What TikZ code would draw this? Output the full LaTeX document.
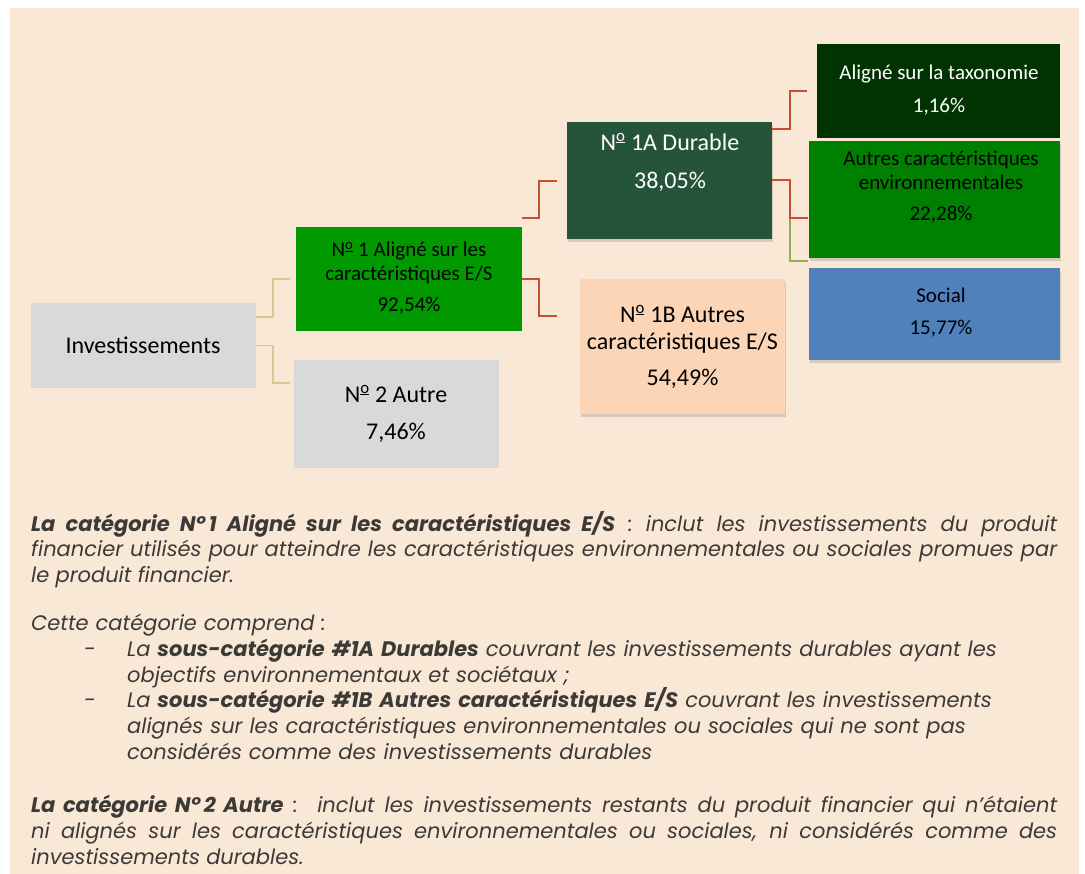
\documentclass[tikz,border=0pt]{standalone}
\usepackage{fontspec}
\usepackage{xcolor}
\usetikzlibrary{shadows}
\newfontfamily\carl{Carlito}
\newfontfamily\popp{Poppins}
\definecolor{fond}{RGB}{250,232,215}
\definecolor{gris}{RGB}{217,217,217}
\definecolor{vert}{RGB}{0,153,0}
\definecolor{durable}{RGB}{38,84,59}
\definecolor{taxo}{RGB}{0,51,0}
\definecolor{envir}{RGB}{0,128,0}
\definecolor{social}{RGB}{79,129,189}
\definecolor{peche}{RGB}{251,213,181}
\definecolor{brique}{RGB}{200,78,48}
\definecolor{sable}{RGB}{217,201,143}
\definecolor{olive}{RGB}{140,176,80}
\definecolor{texte}{RGB}{60,58,55}
\newcommand\nro{N\textsuperscript{\underline{o}}}
\newcommand\puce{\makebox[96pt][l]{\hspace*{53pt}-}}
\newcommand\retrait{\hspace*{96pt}}
\begin{document}
\begin{tikzpicture}[x=1pt,y=-1pt,
box/.style={rectangle,inner sep=0,draw=none},
ombre/.style={drop shadow={opacity=.3,shadow xshift=1pt,shadow yshift=-3pt}},
grand/.style={inner sep=0,align=center,font=\carl\fontsize{24}{27}\selectfont},
petit/.style={inner sep=0,align=center,font=\carl\fontsize{21}{24}\selectfont},
para/.style={inner sep=0,anchor=north west,text width=1026pt,text=texte,font=\popp\itshape\fontsize{21}{25.7}\selectfont},
tanln/.style={draw=sable,line width=1.8pt},
redln/.style={draw=brique,line width=2pt},
grnln/.style={draw=olive,line width=2pt}]
\useasboundingbox(0,0)rectangle(1085,874);
\fill[fond](10,8)rectangle(1079,874);
\node[box,fill=gris,minimum width=225pt,minimum height=85pt](inv)at(143.5,345.5){};
\node[box,fill=vert,minimum width=226pt,minimum height=104pt](al)at(409,279){};
\node[box,fill=gris,minimum width=205pt,minimum height=108pt](au)at(396.5,414){};
\node[box,ombre,fill=durable,minimum width=205pt,minimum height=117pt](du)at(669.5,180.5){};
\node[box,ombre,fill=peche,minimum width=205pt,minimum height=135pt](ac)at(682.5,346.5){};
\node[box,fill=taxo,minimum width=243pt,minimum height=94pt](ta)at(938.5,91){};
\node[box,ombre,fill=envir,minimum width=251pt,minimum height=117pt](env)at(934.5,199.5){};
\node[box,ombre,fill=social,minimum width=251pt,minimum height=92pt](so)at(934.5,314){};
\node[grand](invT)at(143,345){Investissements};
\node[petit](alT)at(409,278.5){\nro{} 1 Aligné sur les\\caractéristiques E/S\\[7pt]92,54\%};
\node[grand](auT)at(396,413.5){\nro{} 2 Autre\\[10pt]7,46\%};
\node[grand,text=white](duT)at(670,162){\nro{} 1A Durable\\[11pt]38,05\%};
\node[grand](acT)at(682.5,346.5){\nro{} 1B Autres\\caractéristiques E/S\\[9pt]54,49\%};
\node[petit,text=white](taT)at(939,90.5){Aligné sur la taxonomie\\[9pt]1,16\%};
\node[petit](envT)at(941,187.5){Autres caractéristiques\\environnementales\\[7pt]22,28\%};
\node[petit](soT)at(941,313){Social\\[8pt]15,77\%};
\draw[tanln](inv.east)++(0,-28.5)--++(17,0)--++(0,-38)--++(17,0);
\draw[tanln](inv.east)--++(17,0)--++(0,37.5)--++(17,0);
\draw[redln](al.east)++(0,-61)--++(17,0)--++(0,-37)--++(18,0);
\draw[redln](al.east)--++(17,0)--++(0,37)--++(18,0);
\draw[grnln](du.east)--++(18,0)--++(0,80.5)--++(18,0);
\draw[redln](du.east)++(0,-51.5)--++(18,0)--++(0,-38)--++(17,0);
\draw[redln](du.east)--++(18,0)--++(0,37.5)--++(18,0);
\node[para,align=justify](p1)at(31,511){\textbf{La catégorie N°\,1 Aligné sur les caractéristiques E/S} : inclut les investissements du produit\linebreak financier utilisés pour atteindre les caractéristiques environnementales ou sociales promues par\linebreak le produit financier.};
\node[para,align=left](p2)at(31,614){Cette catégorie comprend :\\
\puce La \textbf{sous-catégorie \#1A Durables} couvrant les investissements durables ayant les\\
\retrait objectifs environnementaux et sociétaux ;\\
\puce La \textbf{sous-catégorie \#1B Autres caractéristiques E/S} couvrant les investissements\\
\retrait alignés sur les caractéristiques environnementales ou sociales qui ne sont pas\\
\retrait considérés comme des investissements durables};
\node[para,align=justify](p3)at(31,795){\textbf{La catégorie N°\,2 Autre} :\ \ inclut les investissements restants du produit financier qui n’étaient\linebreak ni alignés sur les caractéristiques environnementales ou sociales, ni considérés comme des\linebreak investissements durables.};
\end{tikzpicture}
\end{document}
